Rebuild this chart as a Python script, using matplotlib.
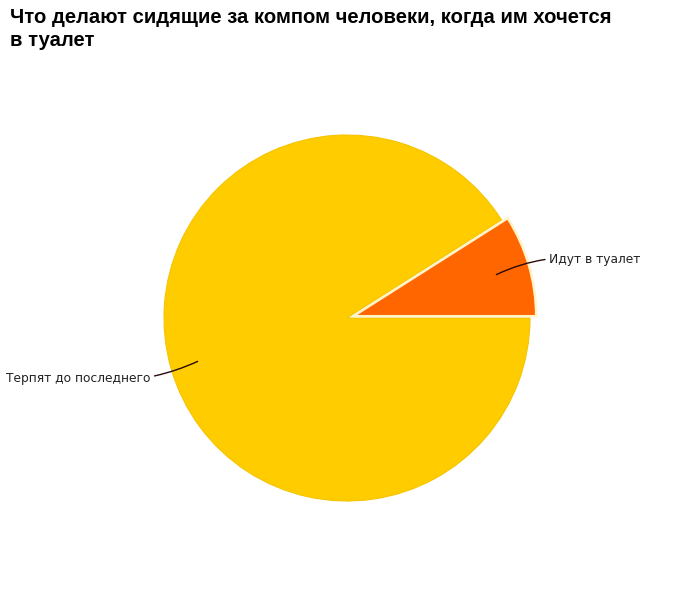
import numpy as np
import matplotlib
matplotlib.use('Agg')
import matplotlib.pyplot as plt

title = 'Что делают сидящие за компом человеки, когда им хочется\nв туалет'
labels = ['Идут в туалет', 'Терпят до последнего']
shares = [9, 91]
colors = ['#FF6600', '#FFCC00']
explode = [0.035, 0]

W, H = 700, 614
fig = plt.figure(figsize=(W / 100, H / 100), dpi=100)
fig.patch.set_facecolor('white')

cx, cy, r = 347, 318, 183
ax = fig.add_axes([(cx - r) / W, (H - cy - r) / H, 2 * r / W, 2 * r / H])

wedges, _ = ax.pie(shares, colors=colors, explode=explode, startangle=0,
                   counterclock=True, radius=1,
                   wedgeprops=dict(edgecolor='#FFF3C8', linewidth=1.8))
ax.set_xlim(-1, 1)
ax.set_ylim(-1, 1)
ax.axis('off')
for w in wedges:
    w.set_clip_on(False)
wedges[1].set_edgecolor('#F5C400')
wedges[1].set_linewidth(0.8)
wedges[1].set_zorder(1)
wedges[0].set_zorder(2)

# label offsets (points) from the anchor inside each wedge
offsets = [(38, 11), (-34, -12)]
for w, lab, off in zip(wedges, labels, offsets):
    mid = np.deg2rad((w.theta1 + w.theta2) / 2)
    ax_x, ax_y = 0.85 * np.cos(mid), 0.85 * np.sin(mid)
    ha = 'left' if np.cos(mid) > 0 else 'right'
    ax.annotate(lab, xy=(ax_x, ax_y), xytext=off, textcoords='offset points',
                ha=ha, va='center', fontsize=8.8, color='#222222',
                family='DejaVu Sans', annotation_clip=False,
                arrowprops=dict(arrowstyle='-', color='#2a0a0a', lw=1.0,
                                shrinkA=1, shrinkB=0,
                                connectionstyle='arc3,rad=0.15'))

fig.text(10 / W, 1 - 8 / H, title, ha='left', va='top', fontsize=14.6,
         fontweight='bold', family=['Liberation Sans'],
         linespacing=1.3, color='black')

fig.savefig('out.png', dpi=100, facecolor='white')
